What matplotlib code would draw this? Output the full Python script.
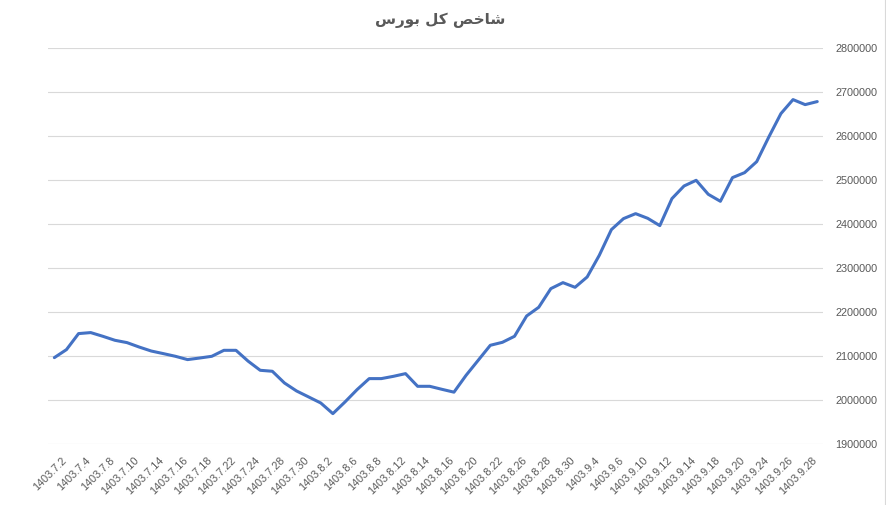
import matplotlib
matplotlib.use("Agg")
import matplotlib.pyplot as plt
import matplotlib.transforms as mtransforms

# ---------------- data ----------------
dates = [
    "1403.7.2", "1403.7.3", "1403.7.4", "1403.7.7", "1403.7.8", "1403.7.9",
    "1403.7.10", "1403.7.11", "1403.7.14", "1403.7.15", "1403.7.16", "1403.7.17",
    "1403.7.18", "1403.7.21", "1403.7.22", "1403.7.23", "1403.7.24", "1403.7.25",
    "1403.7.28", "1403.7.29", "1403.7.30", "1403.8.1", "1403.8.2", "1403.8.5",
    "1403.8.6", "1403.8.7", "1403.8.8", "1403.8.9", "1403.8.12", "1403.8.13",
    "1403.8.14", "1403.8.15", "1403.8.16", "1403.8.19", "1403.8.20", "1403.8.21",
    "1403.8.22", "1403.8.23", "1403.8.26", "1403.8.27", "1403.8.28", "1403.8.29",
    "1403.8.30", "1403.9.3", "1403.9.4", "1403.9.5", "1403.9.6", "1403.9.7",
    "1403.9.10", "1403.9.11", "1403.9.12", "1403.9.13", "1403.9.14", "1403.9.17",
    "1403.9.18", "1403.9.19", "1403.9.20", "1403.9.21", "1403.9.24", "1403.9.25",
    "1403.9.26", "1403.9.27", "1403.9.28", "1403.10.1",
]
index_values = [
    2097000, 2115200, 2151600, 2153900, 2145500, 2136400,
    2131100, 2121100, 2112000, 2106100, 2100000, 2092500,
    2096100, 2100000, 2113600, 2113600, 2089000, 2068200,
    2066000, 2039400, 2021200, 2007600, 1993900, 1969700,
    1996200, 2024300, 2049300, 2049300, 2054500, 2060600,
    2031800, 2031800, 2025000, 2018500, 2056800, 2090900,
    2125000, 2131800, 2145500, 2191600, 2211400, 2253800,
    2267400, 2256800, 2280300, 2329500, 2387900, 2412900,
    2424200, 2413600, 2397000, 2458400, 2487100, 2500000,
    2468200, 2452300, 2506100, 2517400, 2542400, 2598400,
    2651600, 2683400, 2672000, 2678900,
]
y_ticks = [1900000, 2000000, 2100000, 2200000, 2300000, 2400000,
           2500000, 2600000, 2700000, 2800000]
title_text = "شاخص کل بورس"


# ---------- minimal Arabic shaping (matplotlib has no complex text layout) ----------
FORMS = {  # isolated, final, initial, medial
    "ش": ("\uFEB5", "\uFEB6", "\uFEB7", "\uFEB8"),
    "ا": ("\uFE8D", "\uFE8E", None, None),
    "خ": ("\uFEA5", "\uFEA6", "\uFEA7", "\uFEA8"),
    "ص": ("\uFEB9", "\uFEBA", "\uFEBB", "\uFEBC"),
    "ک": ("\uFB8E", "\uFB8F", "\uFB90", "\uFB91"),
    "ل": ("\uFEDD", "\uFEDE", "\uFEDF", "\uFEE0"),
    "ب": ("\uFE8F", "\uFE90", "\uFE91", "\uFE92"),
    "و": ("\uFEED", "\uFEEE", None, None),
    "ر": ("\uFEAD", "\uFEAE", None, None),
    "س": ("\uFEB1", "\uFEB2", "\uFEB3", "\uFEB4"),
}


def shape_rtl(s):
    out = []
    for i, ch in enumerate(s):
        if ch not in FORMS:
            out.append(ch)
            continue
        prev = s[i - 1] if i > 0 else None
        nxt = s[i + 1] if i + 1 < len(s) else None
        jp = prev in FORMS and FORMS[prev][2] is not None
        jn = FORMS[ch][2] is not None and nxt in FORMS
        iso, fin, ini, med = FORMS[ch]
        if jp and jn:
            out.append(med)
        elif jp:
            out.append(fin)
        elif jn:
            out.append(ini)
        else:
            out.append(iso)
    return "".join(reversed(out))


# ---------------- figure ----------------
W, H, DPI = 887, 505, 100
fig = plt.figure(figsize=(W / DPI, H / DPI), dpi=DPI)
fig.patch.set_facecolor("white")

left_px, right_px, top_px, bottom_px = 48.3, 823.3, 48.3, 444.3
ax = fig.add_axes([left_px / W, 1 - bottom_px / H,
                   (right_px - left_px) / W, (bottom_px - top_px) / H])

x = list(range(len(dates)))
ax.plot(x, index_values, color="#4472C4", lw=2.2,
        solid_joinstyle="round", solid_capstyle="round", zorder=3)

ax.set_xlim(-0.5, len(dates) - 0.5)
ax.set_ylim(y_ticks[0], y_ticks[-1])

for s in ax.spines.values():
    s.set_visible(False)

ax.set_yticks(y_ticks)
ax.set_yticklabels([str(v) for v in y_ticks])
ax.yaxis.tick_right()
ax.yaxis.grid(True, color="#d9d9d9", lw=0.8)
ax.set_axisbelow(True)
ax.tick_params(axis="y", length=0, pad=8.5, labelsize=7.8, labelcolor="#595959")
for lab in ax.get_yticklabels():
    lab.set_fontfamily("Liberation Sans")

tick_idx = x[::2]
ax.set_xticks(tick_idx)
ax.set_xticklabels([dates[i] for i in tick_idx])
ax.tick_params(axis="x", length=0, pad=0, labelsize=7.8, labelcolor="#595959")
offset = mtransforms.ScaledTranslation(7 / DPI, -11 / DPI, fig.dpi_scale_trans)
for lab in ax.get_xticklabels():
    lab.set_fontfamily("Liberation Sans")
    lab.set_rotation(45)
    lab.set_ha("right")
    lab.set_va("top")
    lab.set_rotation_mode("anchor")
    lab.set_transform(lab.get_transform() + offset)

fig.text(440 / W, 1 - 20 / H, shape_rtl(title_text), ha="center", va="center",
         fontsize=11, fontweight="bold", color="#595959",
         family=["DejaVu Sans", "Noto Sans"])

# chart-area border at the right edge
fig.add_artist(plt.Line2D([885.5 / W, 885.5 / W], [0, 1], transform=fig.transFigure,
                          color="#d9d9d9", lw=0.8))

fig.savefig("out.png", dpi=DPI)
